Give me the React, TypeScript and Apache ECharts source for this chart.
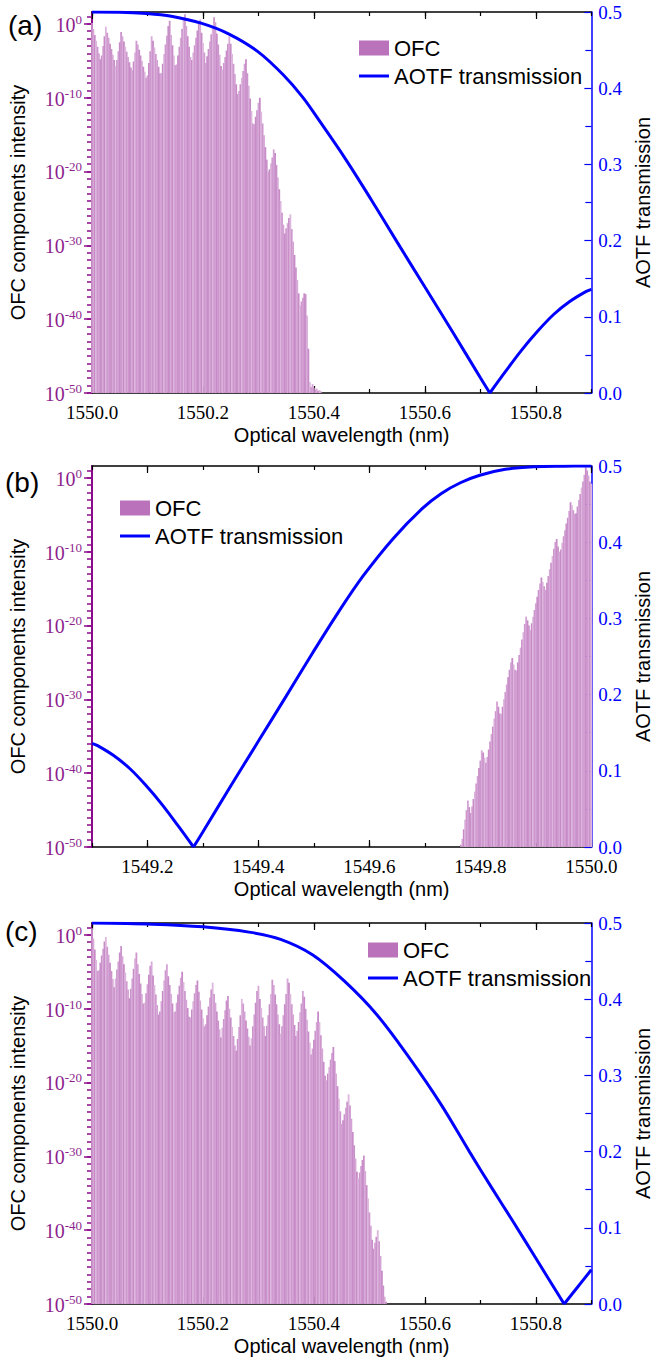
import React, { useEffect, useRef } from "react";
import * as echarts from "echarts";

// ---------------- data ----------------
const LOG_BOTTOM = -50; // exponent at the bottom of the left axis
const LOG_TOP = 1.6; // exponent at the top border
const COMB_SPACING_NM = 0.0025;

const leftExponentTicks = [0, -10, -20, -30, -40, -50];
const transmissionTicks = [0, 0.1, 0.2, 0.3, 0.4, 0.5];

const wavelengthRangeA = [1550.0, 1550.9];
const wavelengthRangeB = [1549.1, 1550.0];
const wavelengthRangeC = [1550.0, 1550.9];

const majorTicksA = [1550.0, 1550.2, 1550.4, 1550.6, 1550.8];
const majorTicksB = [1549.2, 1549.4, 1549.6, 1549.8, 1550.0];
const majorTicksC = [1550.0, 1550.2, 1550.4, 1550.6, 1550.8];

const combStartA = 1550.0;
const combStartB = 1549.765;
const combStartC = 1550.0;

// OFC comb-line intensities, log10 exponent, one per comb line
const ofcExponentA = [
  0.1, -0.7, -1.5, -2.3, -3.1, -4.0, -4.8, -4.3, -3.0, -1.7,
  -0.4, -1.2, -1.9, -2.7, -3.4, -4.2, -4.9, -5.7, -4.9, -3.7,
  -2.5, -1.1, -1.7, -2.4, -3.1, -3.8, -4.5, -5.2, -5.9, -6.3,
  -5.1, -3.9, -2.3, -2.8, -3.5, -4.3, -5.0, -5.8, -6.5, -7.3,
  -7.0, -5.3, -3.7, -1.7, -2.3, -3.2, -4.1, -4.9, -5.8, -6.7,
  -6.7, -5.4, -4.1, -2.8, -1.6, -0.3, 0.4, -1.5, -2.9, -4.3,
  -5.6, -5.5, -4.3, -3.1, -1.9, -0.7, 0.5, 1.3, -0.3, -1.7,
  -3.1, -4.5, -4.9, -3.9, -2.9, -1.9, -0.9, 0.1, 0.6, -1.2,
  -2.6, -3.9, -5.3, -4.4, -3.4, -2.4, -1.4, -0.4, 0.9, 0.2,
  -1.3, -2.8, -4.2, -5.7, -6.2, -5.3, -4.5, -3.6, -2.7, -1.7,
  -2.7, -4.1, -5.4, -6.8, -8.2, -9.5, -9.1, -8.2, -7.3, -6.4,
  -5.4, -4.8, -6.7, -8.4, -10.1, -11.8, -13.5, -13.6, -12.6, -11.7,
  -10.7, -10.0, -11.9, -13.5, -15.1, -16.7, -18.4, -20.0, -19.7, -18.9,
  -18.1, -17.0, -17.5, -19.1, -20.8, -22.4, -24.0, -25.6, -27.2, -28.4,
  -27.7, -27.0, -26.3, -25.8, -27.8, -29.5, -31.3, -33.0, -34.7, -36.5,
  -38.2, -37.6, -37.1, -36.5, -36.6, -39.5, -44.0, -48.5, -49.2, -48.8,
  -49.3, -49.6, -49.4, -49.7, -49.6, -49.8,
];

const ofcExponentB = [
  -49.7, -48.9, -47.6, -46.3, -45.0, -43.7, -44.6, -45.4, -44.5, -43.5,
  -42.5, -41.4, -40.4, -39.3, -38.3, -36.9, -37.2, -37.9, -38.6, -37.8,
  -36.8, -35.7, -34.7, -33.7, -32.6, -31.6, -30.3, -31.0, -31.9, -32.0,
  -31.0, -30.0, -29.0, -28.0, -27.0, -26.0, -25.0, -24.4, -25.3, -26.0,
  -26.1, -25.0, -24.0, -23.0, -21.9, -20.9, -19.8, -18.8, -19.3, -20.0,
  -20.6, -19.7, -18.8, -17.9, -17.0, -16.1, -15.2, -14.3, -13.5, -14.1,
  -14.7, -15.2, -14.2, -13.3, -12.4, -11.5, -10.6, -9.6, -8.7, -8.3,
  -9.3, -10.0, -9.7, -8.8, -7.9, -7.1, -6.2, -5.4, -4.5, -3.3,
  -3.7, -4.4, -4.9, -4.8, -3.9, -3.0, -2.2, -1.3, -0.5, 0.4,
  1.4, 1.0, 0.3, -0.5, -0.8,
];

const ofcExponentC = [
  0.9, -0.5, -2.0, -3.4, -4.9, -4.8, -3.8, -2.8, -1.9, -0.9,
  -0.3, -1.6, -2.7, -3.8, -4.9, -6.0, -7.1, -5.9, -4.7, -3.6,
  -2.4, -1.5, -2.9, -4.0, -5.1, -6.3, -7.4, -8.6, -7.3, -5.9,
  -4.6, -3.2, -2.4, -4.0, -5.3, -6.6, -8.0, -9.3, -9.2, -7.9,
  -6.7, -5.4, -4.2, -3.6, -5.5, -6.8, -8.1, -9.5, -10.8, -10.4,
  -9.0, -7.6, -6.2, -4.8, -4.0, -5.6, -6.8, -8.0, -9.3, -10.5,
  -10.4, -9.2, -8.1, -6.9, -5.8, -5.0, -6.4, -7.6, -8.8, -9.9,
  -11.1, -11.2, -10.1, -9.0, -7.9, -6.8, -6.2, -7.7, -8.9, -10.1,
  -11.3, -12.4, -12.1, -10.9, -9.7, -8.5, -7.4, -6.5, -8.0, -9.2,
  -10.4, -11.6, -12.8, -13.9, -12.6, -11.4, -10.2, -8.9, -8.3, -10.0,
  -11.2, -12.5, -13.7, -15.0, -15.7, -14.1, -12.5, -10.9, -8.7, -9.3,
  -10.4, -11.6, -12.7, -13.8, -15.0, -14.0, -12.4, -10.8, -9.2, -7.6,
  -6.9, -8.7, -9.9, -11.2, -12.4, -13.7, -12.3, -10.9, -9.4, -8.0,
  -6.1, -6.8, -8.1, -9.4, -10.8, -12.1, -13.4, -12.4, -10.9, -9.4,
  -8.0, -5.9, -6.5, -8.0, -9.4, -10.8, -12.2, -13.7, -13.0, -11.8,
  -10.5, -9.3, -7.6, -8.4, -10.0, -11.5, -13.1, -14.6, -16.2, -15.4,
  -14.2, -13.0, -11.8, -10.4, -11.8, -13.6, -15.4, -17.2, -19.1, -19.7,
  -18.8, -17.9, -16.9, -16.0, -15.2, -17.1, -18.8, -20.5, -22.2, -23.9,
  -25.6, -25.1, -24.3, -23.4, -22.6, -21.6, -23.1, -24.9, -26.7, -28.5,
  -30.3, -32.1, -33.0, -32.2, -31.3, -30.5, -29.9, -32.0, -33.9, -35.7,
  -37.6, -39.4, -41.3, -42.5, -41.7, -40.9, -40.0, -41.5, -43.5, -45.5,
  -47.5, -49.0, -49.7,
];

// AOTF transmission curves [wavelength nm, transmission]
const aotfA: [number, number][] = [
  [1550.0, 0.5], [1550.05, 0.4998], [1550.099, 0.4981], [1550.143, 0.4944],
  [1550.198, 0.485], [1550.247, 0.471], [1550.299, 0.448], [1550.345, 0.4173],
  [1550.38, 0.388], [1550.411, 0.356], [1550.457, 0.307], [1550.503, 0.254],
  [1550.55, 0.198], [1550.6, 0.139], [1550.65, 0.08], [1550.7, 0.02],
  [1550.717, 0], [1550.745, 0.028], [1550.774, 0.056], [1550.803, 0.081],
  [1550.832, 0.103], [1550.861, 0.12], [1550.89, 0.133], [1550.9, 0.136],
];

const aotfB: [number, number][] = [
  [1549.1, 0.136], [1549.11, 0.133], [1549.139, 0.12], [1549.168, 0.103],
  [1549.197, 0.081], [1549.226, 0.056], [1549.255, 0.028], [1549.283, 0],
  [1549.3, 0.02], [1549.35, 0.08], [1549.4, 0.139], [1549.45, 0.198],
  [1549.497, 0.254], [1549.543, 0.307], [1549.589, 0.356], [1549.643, 0.405],
  [1549.695, 0.444], [1549.729, 0.4637], [1549.764, 0.478], [1549.799, 0.4878],
  [1549.845, 0.4956], [1549.897, 0.499], [1549.95, 0.4998], [1550.0, 0.5],
];

const aotfC: [number, number][] = [
  [1550.0, 0.5], [1550.109, 0.4985], [1550.2, 0.495], [1550.283, 0.488],
  [1550.34, 0.4785], [1550.398, 0.458], [1550.456, 0.423], [1550.513, 0.38],
  [1550.572, 0.323], [1550.629, 0.262], [1550.681, 0.199], [1550.72, 0.153],
  [1550.76, 0.107], [1550.8, 0.06], [1550.851, 0], [1550.875, 0.022],
  [1550.9, 0.045],
];

const panelNames = ["(a)", "(b)", "(c)"];
const seriesNames = ["OFC", "AOTF transmission"];

// ---------------- styling / layout ----------------
const SERIF = '"Times New Roman", "Liberation Serif", serif';
const SANS = 'Arial, "Liberation Sans", sans-serif';
const PURPLE = "#8B0A8B";
const PURPLE_TEXT = "#8E1F8E";
const BLUE = "#0000FF";
const BAR_SHADES = ["#CA92CA", "#D8AAD8", "#C78BC7", "#DDB6DD", "#CE98CE", "#D4A2D4", "#C88DC8"];

const GRID_LEFT = 87;
const GRID_WIDTH = 519;
const GRID_HEIGHT = 381;
const GRID_TOPS = [12, 466, 923];
const LEGEND_POS = [
  { left: 354, top: 32 },
  { left: 115, top: 492 },
  { left: 363, top: 934 },
];
const PANEL_LABEL_POS = [
  { x: 8, y: 25 },
  { x: 5, y: 482 },
  { x: 5, y: 931 },
];

const panels = [
  { range: wavelengthRangeA, majors: majorTicksA, combStart: combStartA, exps: ofcExponentA, aotf: aotfA },
  { range: wavelengthRangeB, majors: majorTicksB, combStart: combStartB, exps: ofcExponentB, aotf: aotfB },
  { range: wavelengthRangeC, majors: majorTicksC, combStart: combStartC, exps: ofcExponentC, aotf: aotfC },
];

function buildOption() {
  const grid: any[] = [];
  const xAxis: any[] = [];
  const yAxis: any[] = [];
  const series: any[] = [];
  const legend: any[] = [];
  const graphic: any[] = [];

  const logSpan = LOG_TOP - LOG_BOTTOM;
  const majorLeft = leftExponentTicks.map((e) => e - LOG_BOTTOM);
  const minorLeft: number[] = [];
  for (let v = 0; v <= logSpan; v += 1) minorLeft.push(v);

  panels.forEach((panel, p) => {
    grid.push({ left: GRID_LEFT, top: GRID_TOPS[p], width: GRID_WIDTH, height: GRID_HEIGHT, containLabel: false });
    const [xmin, xmax] = panel.range;
    const xb = p * 4;
    const yb = p * 3;
    const commonX = { type: "value", gridIndex: p, min: xmin, max: xmax, splitLine: { show: false } };
    // bottom axis, minor ticks + labels
    xAxis.push({
      ...commonX,
      position: "bottom",
      interval: 0.1,
      axisLine: { show: true, onZero: false, lineStyle: { color: "#000", width: 1.5 } },
      axisTick: { show: true, inside: true, length: 4, lineStyle: { color: "#000", width: 1.2 } },
      axisLabel: {
        show: true,
        customValues: panel.majors,
        formatter: (v: number) => v.toFixed(1),
        fontFamily: SERIF,
        fontSize: 19,
        color: "#000",
        margin: 10,
        lineHeight: 19,
      },
      name: "Optical wavelength (nm)",
      nameLocation: "middle",
      nameGap: 32,
      nameTextStyle: { fontFamily: SANS, fontSize: 20, color: "#000" },
    });
    // bottom axis, major ticks
    xAxis.push({
      ...commonX,
      position: "bottom",
      axisLine: { show: false, onZero: false },
      axisTick: { show: true, inside: true, length: 7, customValues: panel.majors, lineStyle: { color: "#000", width: 1.2 } },
      axisLabel: { show: false },
    });
    // top axis, minor ticks
    xAxis.push({
      ...commonX,
      position: "top",
      interval: 0.1,
      axisLine: { show: true, onZero: false, lineStyle: { color: "#000", width: 1.5 } },
      axisTick: { show: true, inside: true, length: 4, lineStyle: { color: "#000", width: 1.2 } },
      axisLabel: { show: false },
    });
    // top axis, major ticks
    xAxis.push({
      ...commonX,
      position: "top",
      axisLine: { show: false, onZero: false },
      axisTick: { show: true, inside: true, length: 7, customValues: panel.majors, lineStyle: { color: "#000", width: 1.2 } },
      axisLabel: { show: false },
    });

    // left log axis (exponent shifted so that 10^-50 sits at 0)
    yAxis.push({
      type: "value",
      gridIndex: p,
      position: "left",
      min: 0,
      max: logSpan,
      interval: 10,
      splitLine: { show: false },
      axisLine: { show: true, onZero: false, lineStyle: { color: PURPLE, width: 2 } },
      axisTick: { show: true, inside: false, length: 8, customValues: majorLeft, lineStyle: { color: PURPLE, width: 1.5 } },
      axisLabel: {
        show: true,
        customValues: majorLeft,
        margin: 10,
        formatter: (v: number) => `{b|10}{s|${Math.round(v + LOG_BOTTOM)}}`,
        rich: {
          b: { fontFamily: SERIF, fontSize: 20, color: PURPLE_TEXT, lineHeight: 22, verticalAlign: "bottom" },
          s: { fontFamily: SERIF, fontSize: 13, color: PURPLE_TEXT, lineHeight: 12, verticalAlign: "top" },
        },
      },
      name: "OFC components intensity",
      nameLocation: "middle",
      nameGap: 64,
      nameTextStyle: { fontFamily: SANS, fontSize: 20, color: "#000" },
    });
    // left minor ticks (one per decade)
    yAxis.push({
      type: "value",
      gridIndex: p,
      position: "left",
      min: 0,
      max: logSpan,
      splitLine: { show: false },
      axisLine: { show: false, onZero: false },
      axisTick: { show: true, inside: false, length: 5, customValues: minorLeft, lineStyle: { color: PURPLE, width: 1.5 } },
      axisLabel: { show: false },
    });
    // right transmission axis
    yAxis.push({
      type: "value",
      gridIndex: p,
      position: "right",
      min: transmissionTicks[0],
      max: transmissionTicks[transmissionTicks.length - 1],
      interval: 0.1,
      splitLine: { show: false },
      minorSplitLine: { show: false },
      axisLine: { show: true, onZero: false, lineStyle: { color: BLUE, width: 1.5 } },
      axisTick: { show: true, inside: true, length: 7, lineStyle: { color: BLUE, width: 1.2 } },
      minorTick: { show: true, splitNumber: 2, length: 6, lineStyle: { color: BLUE, width: 1.2 } },
      axisLabel: {
        show: true,
        formatter: (v: number) => v.toFixed(1),
        fontFamily: SERIF,
        fontSize: 19,
        color: BLUE,
        margin: 7,
        lineHeight: 15,
      },
      name: "AOTF transmission",
      nameLocation: "middle",
      nameGap: 41,
      nameTextStyle: { fontFamily: SANS, fontSize: 20, color: "#000" },
    });

    // OFC comb lines
    series.push({
      type: "bar",
      name: seriesNames[0],
      xAxisIndex: xb,
      yAxisIndex: yb,
      barWidth: 1.8,
      data: panel.exps.map((e, i) => [panel.combStart + i * COMB_SPACING_NM, e - LOG_BOTTOM]),
      itemStyle: { color: (params: any) => BAR_SHADES[params.dataIndex % BAR_SHADES.length] },
      z: 2,
    });

    // AOTF curve, split at its zero so the notch stays sharp
    let zeroIdx = 0;
    panel.aotf.forEach((pt, i) => {
      if (pt[1] < panel.aotf[zeroIdx][1]) zeroIdx = i;
    });
    const branches = [panel.aotf.slice(0, zeroIdx + 1), panel.aotf.slice(zeroIdx)];
    branches.forEach((branch) => {
      series.push({
        type: "line",
        name: seriesNames[1],
        xAxisIndex: xb,
        yAxisIndex: yb + 2,
        data: branch,
        symbol: "none",
        showSymbol: false,
        smooth: 0.35,
        lineStyle: { color: BLUE, width: 3 },
        itemStyle: { color: BLUE },
        z: 5,
      });
    });

    legend.push({
      left: LEGEND_POS[p].left,
      top: LEGEND_POS[p].top,
      orient: "vertical",
      itemWidth: 30,
      itemHeight: 15,
      itemGap: 6,
      selectedMode: false,
      textStyle: { fontFamily: SANS, fontSize: 22, color: "#000" },
      data: [
        { name: seriesNames[0], icon: "rect", itemStyle: { color: "#BA72BA" } },
        { name: seriesNames[1], icon: "path://M0,0H30V3H0Z", itemStyle: { color: BLUE } },
      ],
    });

    graphic.push({
      type: "text",
      x: PANEL_LABEL_POS[p].x,
      y: PANEL_LABEL_POS[p].y,
      style: {
        text: panelNames[p],
        fontFamily: SANS,
        fontSize: 28,
        fill: "#000",
        verticalAlign: "middle",
      },
    });
  });

  return {
    animation: false,
    backgroundColor: "#ffffff",
    textStyle: { fontFamily: SANS },
    grid,
    xAxis,
    yAxis,
    series,
    legend,
    graphic,
  };
}

export default function App() {
  const ref = useRef<HTMLDivElement>(null);
  useEffect(() => {
    if (!ref.current) return;
    const chart = echarts.init(ref.current, undefined, { renderer: "svg" });
    chart.setOption(buildOption() as any);
    return () => chart.dispose();
  }, []);
  return (
    <div
      ref={ref}
      style={{ position: "absolute", left: 0, top: 0, width: 661, height: 1363, background: "#fff" }}
    />
  );
}
